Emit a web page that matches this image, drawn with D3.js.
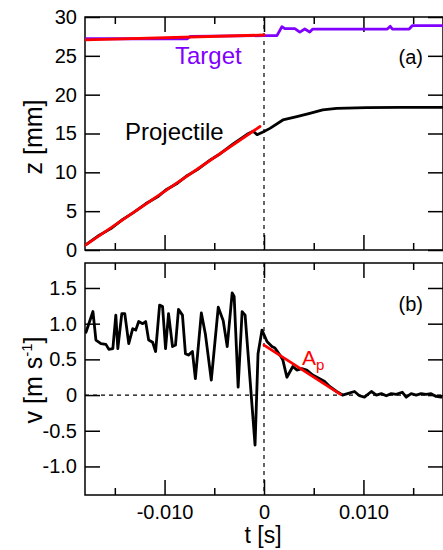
<!DOCTYPE html>
<html>
<head>
<meta charset="utf-8">
<script src="https://cdn.jsdelivr.net/npm/d3@7"></script>
<style>
body{margin:0;background:#fff;}
svg{font-family:"Liberation Sans",Arial,Helvetica,sans-serif;}
.axis path{display:none;}
.axis line{stroke:#000;stroke-width:1.5;}
.axis text{font-size:20px;fill:#000;}
</style>
</head>
<body>
<svg id="chart" width="443" height="550"></svg>
<script>
// target (purple) position
var targetT = [-0.018,-0.0077,-0.0074,0,0.0013,0.0018,0.0021,0.0031,0.0036,0.0041,0.0046,0.0049,0.0124,0.0127,0.0129,0.0146,0.0149,0.018];
var targetZ = [27.2,27.2,27.5,27.6,27.6,28.75,28.5,28.5,28.05,28.45,28.07,28.45,28.45,28.8,28.45,28.45,28.88,28.88];
var targetFitT = [-0.018,0];
var targetFitZ = [27.05,27.68];

// projectile position
var projT = [-0.0179,-0.0167,-0.0154,-0.0142,-0.0131,-0.0119,-0.0107,-0.0098,-0.0087,-0.0077,-0.0067,-0.0054,-0.0044,-0.0031,-0.0017,-0.0011,-0.0007,-0.0001,0.0006,0.0019,0.0033,0.0046,0.0059,0.0073,0.0103,0.0136,0.018];
var projZ = [0.69,1.8,2.75,3.95,4.85,5.95,6.85,7.8,8.6,9.6,10.35,11.6,12.4,13.65,14.9,15.3,14.85,15.2,15.66,16.74,17.17,17.6,18.03,18.24,18.33,18.37,18.37];
var projFitT = [-0.018,-0.0004];
var projFitZ = [0.6,15.9];

// projectile velocity
var velT = [-0.0179,-0.0172,-0.0169,-0.0164,-0.0159,-0.0156,-0.0152,-0.0149,-0.0147,-0.0143,-0.0140,-0.0136,-0.0132,-0.0129,-0.0126,-0.0122,-0.0119,-0.0116,-0.0112,-0.0109,-0.0105,-0.0102,-0.0099,-0.0096,-0.0092,-0.0089,-0.0086,-0.0082,-0.0079,-0.0076,-0.0072,-0.0069,-0.0063,-0.0059,-0.0053,-0.0046,-0.0041,-0.0037,-0.0032,-0.0030,-0.0026,-0.0022,-0.0019,-0.0009,-0.0006,-0.0002,0.0003,0.0008,0.0011,0.0016,0.0019,0.0023,0.0029,0.0033,0.0038,0.0043,0.0049,0.0056,0.0061,0.0066,0.0073,0.0079,0.0084,0.0091,0.0096,0.0101,0.0108,0.0113,0.0118,0.0123,0.0128,0.0133,0.0139,0.0143,0.0148,0.0153,0.0158,0.0163,0.0168,0.0173,0.0178];
var velV = [0.88,1.17,0.77,0.72,0.71,0.64,0.65,1.12,0.65,1.14,1.14,0.72,0.93,0.91,1.03,1.0,1.03,0.77,0.74,0.61,1.26,1.24,0.65,1.14,0.68,0.70,1.20,1.12,0.58,0.56,0.61,0.23,1.15,0.86,0.21,1.23,1.04,0.68,1.43,1.38,0.11,1.17,1.12,-0.70,0.58,0.91,0.75,0.68,0.66,0.56,0.49,0.25,0.40,0.35,0.37,0.35,0.28,0.23,0.19,0.12,0.05,0.0,0.02,0.05,-0.01,-0.03,0.05,0.0,0.02,-0.01,0.02,0.01,0.04,-0.03,0.02,0.0,0.02,0.01,0.02,-0.02,-0.03];
var apT = [0,0.0077];
var apV = [0.70,0.01];

var majorT = [-0.010,0,0.010];
var minorT = [-0.015,-0.005,0.005,0.015];
var zTicks = [0,5,10,15,20,25,30];
var vTicks = [-1.0,-0.5,0,0.5,1.0,1.5];

var svg = d3.select("#chart");
var left = 85, right = 443;
var x = d3.scaleLinear().domain([-0.018,0.018]).range([left,right]);
var yz = d3.scaleLinear().domain([0,30]).range([250,17]);
var yv = d3.scaleLinear().domain([-1.4,1.85]).range([495,263]);

// plain hyphen, not the unicode minus d3.format gives
function fmtT(d){ return d===0 ? "0" : (d<0?"-":"") + Math.abs(d).toFixed(3); }

var purple = "#7f00ff", red = "#ff0000";

function panel(y, top, bottom, yTicks, id, showX){
  var g = svg.append("g");
  g.append("clipPath").attr("id",id).append("rect")
    .attr("x",left).attr("y",top).attr("width",right-left).attr("height",bottom-top);
  // bottom axis, major + minor
  g.append("g").attr("class","axis").attr("transform","translate(0,"+bottom+")")
    .call(d3.axisBottom(x).tickValues(majorT).tickSize(-15).tickPadding(10).tickFormat(showX?fmtT:""));
  g.append("g").attr("class","axis").attr("transform","translate(0,"+bottom+")")
    .call(d3.axisBottom(x).tickValues(minorT).tickSize(-7).tickFormat(""));
  g.append("g").attr("class","axis").attr("transform","translate(0,"+top+")")
    .call(d3.axisTop(x).tickValues(majorT).tickSize(-15).tickFormat(""));
  g.append("g").attr("class","axis").attr("transform","translate(0,"+top+")")
    .call(d3.axisTop(x).tickValues(minorT).tickSize(-7).tickFormat(""));
  g.append("g").attr("class","axis").attr("transform","translate("+left+",0)")
    .call(d3.axisLeft(y).tickValues(yTicks).tickSize(-15).tickPadding(8).tickFormat(function(d){return d===0?"0":(d<0?"-":"")+(id=="cz"?Math.abs(d):Math.abs(d).toFixed(1));}));
  g.append("g").attr("class","axis").attr("transform","translate("+right+",0)")
    .call(d3.axisRight(y).tickValues(yTicks).tickSize(-15).tickFormat(""));
  g.append("rect").attr("x",left).attr("y",top).attr("width",right-left).attr("height",bottom-top)
    .attr("fill","none").attr("stroke","#000").attr("stroke-width",1.5);
  // t = 0 dashed
  g.append("line").attr("x1",x(0)).attr("x2",x(0)).attr("y1",top).attr("y2",bottom)
    .attr("stroke","#000").attr("stroke-width",1.2).attr("stroke-dasharray","4,4");
  return g.append("g").attr("clip-path","url(#"+id+")");
}

function drawLine(g, xs, ys, y, colour, w){
  var pts = xs.map(function(t,i){return [t, ys[i]];});
  g.append("path").datum(pts)
    .attr("d", d3.line().x(function(d){return x(d[0]);}).y(function(d){return y(d[1]);}))
    .attr("fill","none").attr("stroke",colour).attr("stroke-width",w)
    .attr("stroke-linejoin","round").attr("stroke-linecap","round");
}

// panel (a)
var ga = panel(yz, 17, 250, zTicks, "cz", false);
drawLine(ga, targetT, targetZ, yz, purple, 2.8);
drawLine(ga, targetFitT, targetFitZ, yz, red, 2.8);
drawLine(ga, projT, projZ, yz, "#000", 2.8);
drawLine(ga, projFitT, projFitZ, yz, red, 2.8);

// panel (b)
var gb = panel(yv, 263, 495, vTicks, "cv", true);
gb.append("line").attr("x1",left).attr("x2",right).attr("y1",yv(0)).attr("y2",yv(0))
  .attr("stroke","#000").attr("stroke-width",1.2).attr("stroke-dasharray","4,4");
drawLine(gb, velT, velV, yv, "#000", 2.8);
drawLine(gb, apT, apV, yv, red, 2.8);

// labels
svg.append("text").attr("x",175).attr("y",64).attr("font-size",24).attr("fill",purple).text("Target");
svg.append("text").attr("x",125).attr("y",140).attr("font-size",24).attr("fill","#000").text("Projectile");
svg.append("text").attr("x",423).attr("y",64).attr("font-size",20).attr("text-anchor","end").text("(a)");
svg.append("text").attr("x",423).attr("y",311).attr("font-size",20).attr("text-anchor","end").text("(b)");
var ap = svg.append("text").attr("x",302).attr("y",365).attr("font-size",21).attr("fill",red);
ap.append("tspan").text("A");
ap.append("tspan").attr("font-size",15).attr("dy",5).text("p");

svg.append("text").attr("transform","translate(42,137) rotate(-90)").attr("text-anchor","middle")
  .attr("font-size",25).text("z [mm]");
var vt = svg.append("text").attr("transform","translate(42,380) rotate(-90)").attr("text-anchor","middle")
  .attr("font-size",25);
vt.append("tspan").text("v [m s");
vt.append("tspan").attr("font-size",15).attr("dy",-10).text("-1");
vt.append("tspan").attr("dy",10).text("]");
svg.append("text").attr("x",263).attr("y",543).attr("font-size",23).attr("text-anchor","middle").text("t [s]");
</script>
</body>
</html>
